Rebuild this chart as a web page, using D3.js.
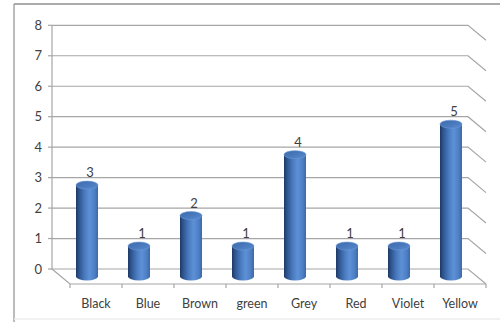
<!DOCTYPE html>
<html>
<head>
<meta charset="utf-8">
<script src="https://cdn.jsdelivr.net/npm/d3@7"></script>
<style>
  html, body { margin: 0; padding: 0; background: #fff; }
  svg { display: block; }
  text { font-family: Lato, "Open Sans", sans-serif; fill: #404040; }
</style>
</head>
<body>
<svg id="chart" width="500" height="322"></svg>
<script>
// Colour counts
const categories = ["Black", "Blue", "Brown", "green", "Grey", "Red", "Violet", "Yellow"];
const counts = [3, 1, 2, 1, 4, 1, 1, 5];
const yTicks = [0, 1, 2, 3, 4, 5, 6, 7, 8];

const W = 500, H = 322;
const svg = d3.select("#chart");

// 3D box geometry: back wall plane and the depth offset toward the viewer
const depthX = 18, depthY = 15;
const backLeft = 52, backRight = 468;
const x = d3.scaleBand().domain(categories).range([backLeft + depthX, backRight + depthX]);
const y = d3.scaleLinear().domain([0, 8]).range([269, 25.3]);

// Outer frame
svg.append("line").attr("x1", 14).attr("x2", W).attr("y1", 4).attr("y2", 4)
  .attr("stroke", "#8f8f8f").attr("stroke-width", 1.5);
svg.append("line").attr("x1", 14).attr("x2", 14).attr("y1", 4).attr("y2", H)
  .attr("stroke", "#8f8f8f").attr("stroke-width", 1.2);
svg.append("line").attr("x1", 14).attr("x2", W).attr("y1", 319).attr("y2", 319)
  .attr("stroke", "#ececec").attr("stroke-width", 1.5);

const grid = svg.append("g").attr("stroke", "#a6a6a6").attr("stroke-width", 1.2).attr("fill", "none");

// Back wall gridlines and right side wall diagonals
yTicks.forEach(t => {
  const yy = y(t);
  grid.append("path").attr("d", `M${backLeft},${yy}H${backRight}l${depthX},${depthY}`);
});
// Back-left vertical axis
grid.append("line").attr("x1", backLeft).attr("x2", backLeft).attr("y1", y(8)).attr("y2", y(0));
// Floor: left diagonal and front edge
grid.append("path").attr("d", `M${backLeft},${y(0)}l${depthX},${depthY}H${backRight + depthX}`);

// Y axis ticks and labels
const yAxis = svg.append("g");
yTicks.forEach(t => {
  yAxis.append("line").attr("x1", backLeft - 4).attr("x2", backLeft).attr("y1", y(t)).attr("y2", y(t))
    .attr("stroke", "#a6a6a6").attr("stroke-width", 1.2);
  yAxis.append("text").attr("x", 42).attr("y", y(t)).attr("dy", "0.36em")
    .attr("text-anchor", "end").attr("font-size", 13).text(t);
});

// Category ticks along the front floor edge and labels
const frontY = y(0) + depthY;
const xAxis = svg.append("g");
const tickXs = categories.map(c => x(c)).concat([x.range()[1]]);
tickXs.forEach(tx => {
  xAxis.append("line").attr("x1", tx).attr("x2", tx).attr("y1", frontY).attr("y2", frontY + 4)
    .attr("stroke", "#a6a6a6").attr("stroke-width", 1.2);
});
categories.forEach(c => {
  xAxis.append("text").attr("x", x(c) + x.bandwidth() / 2).attr("y", 303).attr("dy", "0.36em")
    .attr("text-anchor", "middle").attr("font-size", 12.5).text(c);
});

// Gradients for the cylinders
const defs = svg.append("defs");
const body = defs.append("linearGradient").attr("id", "cylBody").attr("x1", 0).attr("x2", 1).attr("y1", 0).attr("y2", 0);
[[0, "#1d3863"], [0.12, "#2c5189"], [0.4, "#4a7bc0"], [0.62, "#5d90d6"], [0.85, "#4d7fc4"], [1, "#3b68a8"]]
  .forEach(([o, c]) => body.append("stop").attr("offset", o).attr("stop-color", c));
const topG = defs.append("linearGradient").attr("id", "cylTop").attr("x1", 0).attr("x2", 1).attr("y1", 0).attr("y2", 1);
[[0, "#3e6aa9"], [0.6, "#4b7cc0"], [1, "#5c8ed2"]]
  .forEach(([o, c]) => topG.append("stop").attr("offset", o).attr("stop-color", c));

// Cylinders sit at mid-depth of the floor
const rx = 11, ry = 4;
const bars = svg.append("g");
categories.forEach((c, i) => {
  const v = counts[i];
  const cx = x(c) + x.bandwidth() / 2 - depthX / 2;
  const yb = y(0) + depthY / 2;
  const yt = y(v) + depthY / 2;
  bars.append("path")
    .attr("d", `M${cx - rx},${yt}V${yb}A${rx},${ry} 0 0 0 ${cx + rx},${yb}V${yt}Z`)
    .attr("fill", "url(#cylBody)");
  bars.append("ellipse").attr("cx", cx).attr("cy", yt).attr("rx", rx).attr("ry", ry)
    .attr("fill", "url(#cylTop)").attr("stroke", "#6a97d6").attr("stroke-width", 0.6);
  bars.append("text").attr("x", cx + 3).attr("y", yt - 12.5).attr("dy", "0.36em")
    .attr("text-anchor", "middle").attr("font-size", 13).text(v);
});
</script>
</body>
</html>
